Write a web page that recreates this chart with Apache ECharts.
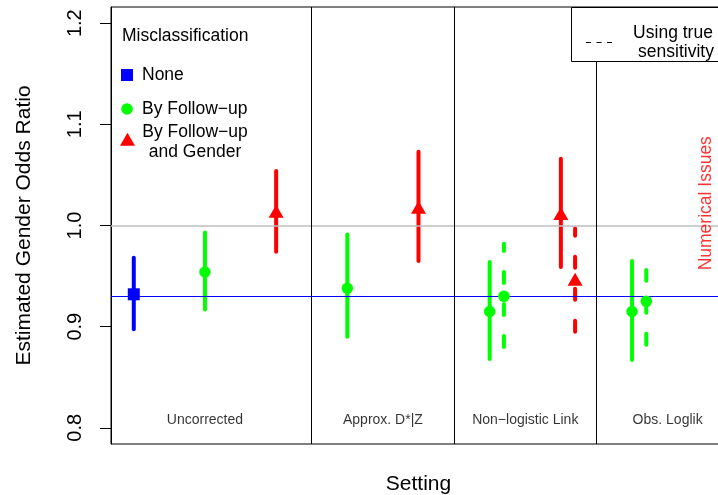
<!DOCTYPE html>
<html>
<head>
<meta charset="utf-8">
<script src="https://cdn.jsdelivr.net/npm/echarts@6/dist/echarts.min.js"></script>
<style>
  html, body { margin: 0; padding: 0; background: #fff; }
  #chart { width: 718px; height: 495px; }
</style>
</head>
<body>
<div id="chart"></div>
<script>
// Settings shown as panels along the x axis
const settingNames = ['Uncorrected', 'Approx. D*|Z', 'Non\u2212logistic Link', 'Obs. Loglik'];
const settingLabelX = [2, 4.5, 6.5, 8.5];
const settingLabelY = 0.808;
const panelDividers = [3.5, 5.5, 7.5];

// Misclassification: none
const noneX = [1];
const noneEst = [0.932];
const noneLo = [0.8975];
const noneHi = [0.968];

// Misclassification: by follow-up
const followX = [2, 4, 6, 8];
const followEst = [0.954, 0.938, 0.915, 0.915];
const followLo = [0.917, 0.890, 0.868, 0.867];
const followHi = [0.993, 0.991, 0.964, 0.965];

// Misclassification: by follow-up and gender
const followGenderX = [3, 5, 7];
const followGenderEst = [1.012, 1.016, 1.010];
const followGenderLo = [0.974, 0.965, 0.959];
const followGenderHi = [1.054, 1.073, 1.066];

// Estimates using the true sensitivity (dashed)
const followTrueX = [6.2, 8.2];
const followTrueEst = [0.930, 0.925];
const followTrueLo = [0.880, 0.882];
const followTrueHi = [0.982, 0.956];

const followGenderTrueX = [7.2];
const followGenderTrueEst = [0.945];
const followGenderTrueLo = [0.895];
const followGenderTrueHi = [0.997];

// Reference lines
const nullOddsRatio = 1.0;
const uncorrectedOddsRatio = 0.932;

// Annotation for the failing fit
const noteText = 'Numerical Issues';
const noteX = 9.04;
const noteY = 1.022;

// Axis ticks
const yTicks = [0.8, 0.9, 1.0, 1.1, 1.2];

const FONT = '"Liberation Sans", Arial, Helvetica, sans-serif';
const BLUE = '#0000FF', GREEN = '#00FF00', RED = '#FF0000';

function zip(xs, lo, hi) { return xs.map((x, i) => [x, lo[i], hi[i]]); }
function pts(xs, est) { return xs.map((x, i) => [x, est[i]]); }

// vertical interval drawn from the lower end up to the upper end
function intervalSeries(xs, lo, hi, color, dashed) {
  return {
    type: 'custom',
    z: 3,
    silent: true,
    data: zip(xs, lo, hi),
    renderItem: (params, api) => {
      const a = api.coord([api.value(0), api.value(1)]);
      const b = api.coord([api.value(0), api.value(2)]);
      return {
        type: 'line',
        shape: { x1: a[0], y1: a[1], x2: b[0], y2: b[1] },
        style: {
          stroke: color,
          lineWidth: 4,
          lineCap: 'round',
          lineDash: dashed ? [11, 21] : null
        }
      };
    }
  };
}

function pointSeries(xs, est, color, symbol, size, offset) {
  return {
    type: 'scatter',
    z: 5,
    silent: true,
    symbol: symbol,
    symbolSize: size,
    symbolOffset: offset || [0, 0],
    itemStyle: { color: color, opacity: 1 },
    data: pts(xs, est)
  };
}

const chart = echarts.init(document.getElementById('chart'), null, { renderer: 'canvas' });

const LEG = '17.5px ' + FONT;

const option = {
  animation: false,
  backgroundColor: '#fff',
  textStyle: { fontFamily: FONT },
  grid: {
    left: 111, top: 7, right: -8, bottom: 51,
    outerBoundsMode: 'none',
    containLabel: false,
    show: true, borderColor: '#000', borderWidth: 1, backgroundColor: 'transparent'
  },
  xAxis: {
    type: 'value',
    min: 0.68, max: 9.32,
    axisLine: { show: false },
    axisTick: { show: false },
    axisLabel: { show: false },
    splitLine: { show: false },
    name: 'Setting',
    nameLocation: 'middle',
    nameGap: 30,
    nameTextStyle: { fontSize: 21, color: '#000', fontFamily: FONT }
  },
  yAxis: {
    type: 'value',
    min: 0.784, max: 1.216,
    axisLine: { show: true, lineStyle: { color: '#000', width: 1 } },
    axisTick: { show: true, inside: false, length: 11, customValues: yTicks, lineStyle: { color: '#000', width: 1 } },
    axisLabel: {
      show: true, customValues: yTicks, rotate: 90, margin: 26,
      fontSize: 20, color: '#000', fontFamily: FONT,
      formatter: v => Number(v).toFixed(1)
    },
    splitLine: { show: false },
    name: 'Estimated Gender Odds Ratio',
    nameLocation: 'middle',
    nameRotate: 90,
    nameGap: 76,
    nameTextStyle: { fontSize: 21, color: '#000', fontFamily: FONT }
  },
  series: [
    // reference lines and panel dividers
    {
      type: 'line', z: 1, silent: true, data: [],
      markLine: {
        silent: true, symbol: 'none', animation: false,
        label: { show: false },
        data: [
          { yAxis: nullOddsRatio, lineStyle: { color: '#BEBEBE', width: 1.5, type: 'solid' } },
          { yAxis: uncorrectedOddsRatio, lineStyle: { color: BLUE, width: 1, type: 'solid' } }
        ].concat(panelDividers.map(x => ({ xAxis: x, lineStyle: { color: '#000', width: 1, type: 'solid' } })))
      }
    },
    intervalSeries(noneX, noneLo, noneHi, BLUE, false),
    intervalSeries(followX, followLo, followHi, GREEN, false),
    intervalSeries(followGenderX, followGenderLo, followGenderHi, RED, false),
    intervalSeries(followTrueX, followTrueLo, followTrueHi, GREEN, true),
    intervalSeries(followGenderTrueX, followGenderTrueLo, followGenderTrueHi, RED, true),
    pointSeries(noneX, noneEst, BLUE, 'rect', 12),
    pointSeries(followX, followEst, GREEN, 'circle', 11.5),
    pointSeries(followTrueX, followTrueEst, GREEN, 'circle', 11.5),
    pointSeries(followGenderX, followGenderEst, RED, 'triangle', [15, 13], [0, -2]),
    pointSeries(followGenderTrueX, followGenderTrueEst, RED, 'triangle', [15, 13], [0, -2]),
    // panel names
    {
      type: 'scatter', z: 6, silent: true, symbolSize: 0,
      data: settingNames.map((n, i) => ({ value: [settingLabelX[i], settingLabelY], name: n })),
      label: {
        show: true, position: 'inside', formatter: p => p.name,
        fontSize: 14, color: '#000', fontFamily: FONT
      }
    },
    // annotation
    {
      type: 'scatter', z: 6, silent: true, symbolSize: 0,
      data: [{ value: [noteX, noteY], name: noteText }],
      label: {
        show: true, position: 'inside', rotate: 90, formatter: p => p.name,
        fontSize: 17.5, color: RED, fontFamily: FONT
      }
    }
  ],
  graphic: [
    // misclassification key
    { type: 'text', x: 122, y: 36, style: { text: 'Misclassification', font: LEG, fill: '#000', textAlign: 'left', textVerticalAlign: 'middle' } },
    { type: 'rect', shape: { x: 121, y: 69, width: 12, height: 12 }, style: { fill: BLUE } },
    { type: 'text', x: 142, y: 75, style: { text: 'None', font: LEG, fill: '#000', textAlign: 'left', textVerticalAlign: 'middle' } },
    { type: 'circle', shape: { cx: 127, cy: 109, r: 5.8 }, style: { fill: GREEN } },
    { type: 'text', x: 142, y: 109, style: { text: 'By Follow\u2212up', font: LEG, fill: '#000', textAlign: 'left', textVerticalAlign: 'middle' } },
    { type: 'polygon', shape: { points: [[120, 145.7], [135, 145.7], [127.5, 132.7]] }, style: { fill: RED } },
    { type: 'text', x: 195, y: 132, style: { text: 'By Follow\u2212up', font: LEG, fill: '#000', textAlign: 'center', textVerticalAlign: 'middle' } },
    { type: 'text', x: 195, y: 152, style: { text: 'and Gender', font: LEG, fill: '#000', textAlign: 'center', textVerticalAlign: 'middle' } },
    // line-type key
    { type: 'rect', shape: { x: 571.5, y: 7.5, width: 200, height: 54 }, style: { fill: '#fff', stroke: '#000', lineWidth: 1 }, z: 10 },
    { type: 'line', shape: { x1: 586, y1: 42.5, x2: 612, y2: 42.5 }, style: { stroke: '#000', lineWidth: 1.2, lineDash: [5, 5.5] }, z: 11 },
    { type: 'text', x: 673, y: 33, style: { text: 'Using true', font: LEG, fill: '#000', textAlign: 'center', textVerticalAlign: 'middle' }, z: 11 },
    { type: 'text', x: 676, y: 52, style: { text: 'sensitivity', font: LEG, fill: '#000', textAlign: 'center', textVerticalAlign: 'middle' }, z: 11 }
  ]
};

chart.setOption(option);
</script>
</body>
</html>
